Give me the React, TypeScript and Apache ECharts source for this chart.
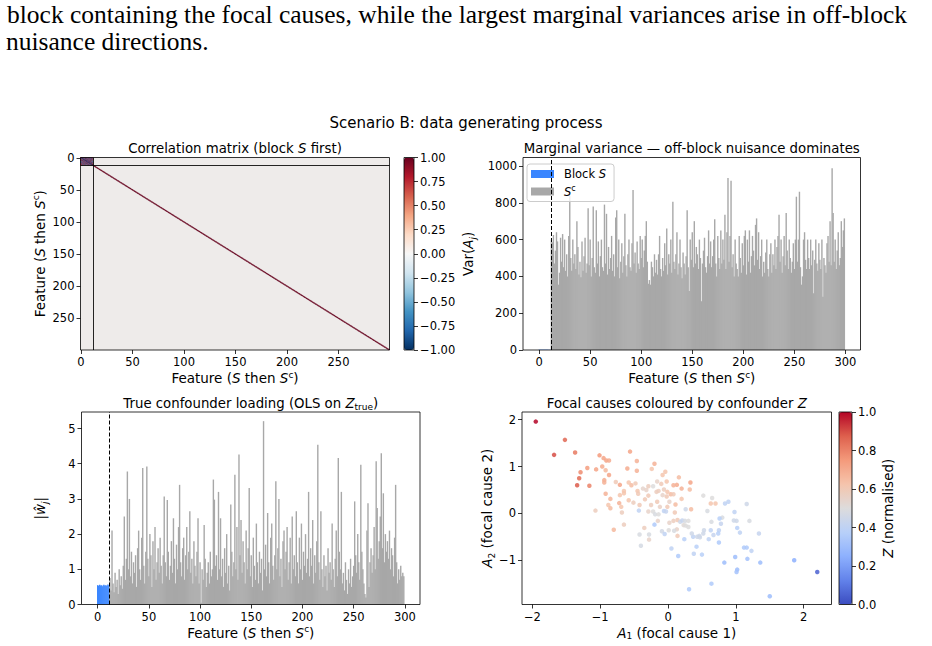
import React, { useEffect, useRef } from 'react';
import * as echarts from 'echarts';

const FONT = 'DejaVu Sans';
const SERIF = 'Liberation Serif';

// ---------------- data ----------------
const N_FEATURES = 300;
const BLOCK_SIZE = 12;

// upper triangle of the 12x12 block-S correlation (row i, columns i+1..11)
const BLOCK_CORR_UPPER: number[][] = [
  [0.82, -0.76, 0.71, -0.88, 0.79, -0.69, 0.74, -0.85, 0.66, -0.8, 0.72],
  [-0.84, 0.73, -0.7, 0.86, -0.77, 0.68, -0.75, 0.83, -0.67, 0.78],
  [-0.72, 0.81, -0.87, 0.7, -0.79, 0.76, -0.69, 0.84, -0.74],
  [-0.78, 0.69, -0.83, 0.8, -0.66, 0.75, -0.82, 0.71],
  [-0.86, 0.74, -0.68, 0.82, -0.77, 0.7, -0.8],
  [-0.79, 0.85, -0.71, 0.76, -0.84, 0.69],
  [-0.73, 0.8, -0.88, 0.72, -0.68],
  [-0.81, 0.75, -0.66, 0.83],
  [-0.7, 0.87, -0.76],
  [-0.8, 0.7],
  [-0.85],
];
const DIAGONAL_CORR = 1;

const VAR_BLOCK_S = [1.0, 0.97, 1.03, 0.99, 1.01, 0.98, 1.02, 1.0, 0.96, 1.04, 0.99, 1.01];
const VAR_NUISANCE = [
  600, 585, 625, 470, 540, 640, 590, 355, 420, 610, 480, 630,
  450, 600, 430, 520, 400, 620, 840, 500, 430, 600, 470, 520,
  440, 700, 560, 410, 480, 395, 590, 430, 510, 610, 420, 470,
  770, 460, 600, 400, 500, 780, 450, 420, 760, 470, 590, 400,
  510, 600, 450, 430, 790, 470, 740, 410, 560, 440, 500, 620,
  430, 520, 400, 720, 760, 450, 600, 390, 480, 580, 420, 510,
  740, 460, 400, 520, 600, 450, 430, 580, 870, 470, 530, 420,
  590, 470, 440, 620, 500, 600, 450, 540, 620, 700, 480, 360,
  380, 355, 480, 450, 400, 520, 420, 490, 410, 520, 620, 440,
  400, 500, 430, 580, 460, 660, 410, 520, 470, 600, 420, 805,
  480, 440, 520, 640, 410, 470, 600, 450, 390, 530, 470, 410,
  510, 760, 450, 320, 600, 490, 640, 450, 700, 470, 560, 520,
  440, 600, 500, 265, 470, 540, 610, 450, 420, 510, 650, 470,
  590, 450, 510, 600, 710, 470, 400, 620, 500, 440, 650, 470,
  600, 490, 735, 440, 640, 935, 480, 620, 920, 450, 520, 400,
  600, 470, 440, 400, 620, 500, 420, 580, 460, 620, 650, 410,
  600, 480, 650, 420, 510, 620, 540, 460, 680, 715, 490, 640,
  440, 510, 600, 400, 480, 420, 530, 600, 440, 400, 520, 580,
  420, 520, 460, 600, 440, 560, 620, 735, 480, 600, 420, 510,
  620, 460, 745, 540, 440, 600, 500, 420, 480, 580, 440, 600,
  833, 480, 600, 860, 450, 355, 400, 600, 640, 490, 440, 600,
  500, 440, 600, 460, 540, 308, 490, 600, 470, 430, 580, 490,
  440, 600, 290, 500, 460, 420, 580, 620, 480, 700, 460, 987,
  745, 480, 600, 440, 540, 640, 460, 500, 700, 560, 650, 715,
];

const LOAD_BLOCK_S = [0.55, 0.53, 0.56, 0.54, 0.55, 0.52, 0.56, 0.54, 0.55, 0.53, 0.57, 0.55];
const LOAD_NUISANCE = [
  0.75, 0.4, 2.1, 0.6, 0.35, 0.9, 0.5, 0.7, 0.3, 1.0, 0.55, 0.8,
  0.45, 1.1, 2.5, 0.7, 1.3, 3.78, 1.0, 3.0, 0.8, 1.5, 0.6, 1.2,
  0.9, 1.4, 0.5, 1.6, 2.1, 1.0, 0.7, 1.9, 3.88, 1.1, 0.6, 1.5,
  3.92, 1.3, 0.8, 2.0, 1.4, 0.5, 1.8, 1.0, 2.2, 0.7, 1.2, 1.6,
  0.9, 1.9, 1.1, 0.6, 1.4, 3.07, 1.2, 0.8, 2.97, 1.5, 0.7, 1.1,
  1.8, 0.9, 2.45, 1.3, 0.6, 1.7, 1.0, 2.2, 3.4, 1.2, 0.8, 1.6,
  1.9, 0.7, 1.4, 2.2, 1.0, 1.5, 2.65, 0.9, 1.3, 0.6, 1.8, 1.1,
  0.8, 1.5, 2.45, 0.6, 1.2, 0.05, 1.0, 0.7, 2.26, 1.3, 0.5, 0.9,
  1.2, 0.6, 1.5, 0.8, 1.0, 3.55, 2.98, 1.1, 1.4, 0.7, 3.2, 1.0,
  2.45, 0.8, 1.3, 0.5, 1.6, 0.9, 2.0, 0.6, 1.1, 0.4, 2.84, 1.5,
  0.8, 1.2, 3.69, 1.0, 2.2, 0.7, 4.26, 1.4, 2.4, 0.9, 1.8, 1.2,
  0.6, 2.1, 1.0, 1.6, 3.31, 0.8, 1.4, 0.5, 1.9, 1.1, 0.7, 2.3,
  1.2, 0.6, 1.5, 0.9, 1.3, 0.4, 5.21, 1.0, 1.7, 0.8, 2.6, 1.2,
  0.6, 1.9, 2.3, 1.1, 0.7, 1.4, 3.5, 1.0, 1.6, 3.0, 0.8, 1.3,
  0.5, 1.8, 2.1, 1.0, 1.5, 2.2, 0.7, 1.2, 1.9, 0.6, 2.5, 1.0,
  1.4, 0.8, 2.65, 1.2, 0.6, 1.9, 1.0, 2.3, 0.7, 1.5, 1.1, 2.0,
  0.9, 1.3, 3.2, 0.8, 1.6, 1.1, 2.4, 0.6, 1.4, 0.9, 1.8, 4.54,
  1.2, 0.7, 2.65, 1.0, 0.5, 1.4, 0.8, 1.1, 0.4, 1.6, 0.9, 1.2,
  0.7, 2.3, 1.0, 0.5, 1.3, 2.1, 0.8, 4.16, 1.5, 1.0, 3.2, 0.6,
  0.9, 0.4, 1.2, 0.7, 0.3, 1.0, 0.6, 1.3, 0.5, 0.8, 1.1, 2.93,
  1.4, 0.9, 2.0, 1.2, 0.7, 3.97, 1.5, 1.0, 0.6, 0.3, 0.2, 2.1,
  2.88, 0.5, 1.2, 1.6, 0.9, 1.4, 2.2, 1.0, 4.07, 2.74, 1.3, 1.8,
  2.5, 4.3, 1.6, 3.16, 1.2, 2.0, 1.5, 1.8, 1.3, 2.1, 1.0, 1.6,
  1.4, 0.8, 1.9, 3.4, 1.2, 0.6, 1.0, 0.7, 1.1, 0.8, 0.9, 0.8,
];

const FOCAL_A1 = [
  -1.95, -1.52, -1.68, -1.37, -1.29, -1.31, -1.34, -1.16, -1.19, -1.06, -1.01, -0.97, -0.95, -0.91, -0.87, -0.92,
  -0.87, -0.94, -0.94, -0.92, -0.85, -0.88, -0.85, -1.07, -0.77, -0.71, -0.65, -0.65, -0.71, -0.72, -0.69, -0.68,
  -0.8, -0.65, -0.56, -0.6, -0.46, -0.46, -0.58, -0.54, -0.48, -0.58, -0.51, -0.45, -0.44, -0.42, -0.37, -0.32,
  -0.34, -0.43, -0.29, -0.22, -0.29, -0.25, -0.29, -0.2, -0.24, -0.16, -0.17, -0.14, -0.16, -0.12, -0.08, -0.04,
  -0.1, -0.06, -0.08, -0.22, -0.19, -0.14, -0.15, -0.2, -0.06, -0.09, -0.05, -0.35, -0.42, -0.28, -0.28, -0.4,
  0.16, 0.13, 0.08, 0.2, 0.33, 0.32, -0.02, -0.01, 0.04, 0.08, -0.02, 0.2, 0.02, 0.11, -0.01, 0.34,
  -0.03, 0.1, 0.26, 0.14, 0.08, 0.02, 0.18, 0.21, 0.25, 0.3, 0.23, 0.26, 0.3, 0.13, 0.09, 0.01,
  0.14, 0.24, 0.05, 0.15, 0.37, 0.43, 0.46, 0.35, 0.42, 0.38, 0.5, 0.52, 0.65, 0.63, 0.7, 0.84,
  0.89, 1.16, 0.58, 0.8, 0.76, 0.78, 0.64, 0.53, 0.63, 0.67, 0.6, 0.52, 0.47, 0.75, 0.74, 0.75,
  0.98, 1.01, 1.02, 1.06, 1.2, 1.12, 1.16, 1.23, 1.34, 0.83, 0.99, 1.17, 1.36, 1.02, 1.01, 0.64,
  0.31, 1.5, 1.86, 2.2, 0.97,
];
const FOCAL_A2 = [
  1.96, 1.57, 1.25, 1.3, 0.88, 0.75, 0.6, 0.59, 0.97, 0.94, 1.24, 1.0, 1.18, 1.13, 1.13, 0.92,
  0.82, 0.71, 0.66, 0.42, 0.31, 0.18, 0.11, 0.06, 0.67, 0.61, 0.48, 0.43, 0.39, 0.22, 0.14, 0.02,
  -0.35, -0.24, 1.32, 0.96, 1.12, 0.91, 0.66, 0.6, 0.64, 0.28, 0.23, 0.48, 0.42, 0.18, 0.53, 0.5,
  0.3, 0.06, 0.58, 0.58, 0.38, 0.18, 0.04, 1.06, 0.95, 0.68, 0.46, 0.48, 0.25, 0.14, 0.82, 0.89,
  0.63, 0.51, 0.39, 0.04, -0.02, -0.02, -0.16, -0.24, 0.05, -0.38, -0.44, -0.31, -0.45, -0.45, -0.56, -0.69,
  0.77, 0.61, 0.6, 0.53, 0.66, 0.51, 0.68, 0.46, 0.41, 0.41, 0.36, 0.31, 0.25, 0.19, 0.14, 0.09,
  0.04, 0.02, 0.09, -0.14, -0.16, -0.2, -0.18, -0.15, -0.16, -0.16, -0.25, -0.26, -0.29, -0.34, -0.37, -0.36,
  -0.48, -0.55, -0.75, -0.91, -0.5, -0.5, -0.48, -0.43, -0.71, -0.86, -0.88, 0.38, 0.33, 0.21, 0.21, 0.21,
  0.25, 0.2, 0.05, -0.09, -0.11, -0.22, -0.18, -0.36, -0.36, -0.46, -0.55, -0.43, -0.51, -0.36, -0.43, -0.62,
  0.03, -0.16, -0.31, -0.41, -0.16, -0.73, -0.73, -0.8, -0.43, -1.05, -0.93, -0.97, -1.05, -1.2, -1.25, -1.5,
  -1.62, -1.77, -1.0, -1.25, -0.15,
];
const CONFOUNDER_Z = [
  1.0, 0.86, 0.9, 0.82, 0.78, 0.85, 0.88, 0.8, 0.74, 0.72, 0.75, 0.7, 0.72, 0.72, 0.7, 0.66,
  0.72, 0.7, 0.68, 0.68, 0.67, 0.62, 0.65, 0.58, 0.6, 0.72, 0.62, 0.62, 0.62, 0.68, 0.62, 0.58,
  0.66, 0.58, 0.72, 0.7, 0.68, 0.68, 0.62, 0.65, 0.6, 0.62, 0.58, 0.62, 0.6, 0.6, 0.54, 0.55,
  0.6, 0.4, 0.58, 0.5, 0.6, 0.58, 0.55, 0.68, 0.62, 0.55, 0.58, 0.58, 0.6, 0.56, 0.62, 0.62,
  0.6, 0.58, 0.55, 0.5, 0.48, 0.5, 0.55, 0.35, 0.4, 0.46, 0.4, 0.58, 0.48, 0.48, 0.55, 0.47,
  0.65, 0.7, 0.68, 0.68, 0.72, 0.65, 0.62, 0.62, 0.65, 0.6, 0.6, 0.62, 0.55, 0.65, 0.6, 0.65,
  0.42, 0.6, 0.45, 0.6, 0.58, 0.55, 0.45, 0.42, 0.48, 0.5, 0.52, 0.5, 0.5, 0.55, 0.48, 0.5,
  0.6, 0.38, 0.4, 0.35, 0.4, 0.45, 0.45, 0.45, 0.38, 0.4, 0.38, 0.5, 0.5, 0.62, 0.62, 0.4,
  0.4, 0.45, 0.48, 0.48, 0.38, 0.42, 0.48, 0.45, 0.4, 0.42, 0.4, 0.45, 0.45, 0.4, 0.38, 0.35,
  0.4, 0.45, 0.38, 0.4, 0.48, 0.35, 0.35, 0.4, 0.42, 0.3, 0.3, 0.32, 0.3, 0.3, 0.32, 0.35,
  0.35, 0.3, 0.25, 0.05, 0.45,
];

// tick labels
const FEATURE_TICKS = [0, 50, 100, 150, 200, 250, 300];
const CORR_TICKS = [-1, -0.75, -0.5, -0.25, 0, 0.25, 0.5, 0.75, 1];
const VAR_TICKS = [0, 200, 400, 600, 800, 1000];
const LOAD_TICKS = [0, 1, 2, 3, 4, 5];
const A1_TICKS = [-2, -1, 0, 1, 2];
const A2_TICKS = [-1, 0, 1, 2];
const Z_TICKS = [0, 0.2, 0.4, 0.6, 0.8, 1.0];
const HEAT_TICK_STEP = 50;

const PARAGRAPH_LINES = [
  'block containing the focal causes, while the largest marginal variances arise in off-block',
  'nuisance directions.',
];

// ---------------- styles ----------------
const RDBU_R = ['#053061', '#2166ac', '#4393c3', '#92c5de', '#d1e5f0', '#f7f7f7', '#fddbc7', '#f4a582', '#d6604d', '#b2182b', '#67001f'];
const COOLWARM = ['#3b4cc0', '#6282ea', '#8db0fe', '#b8d0f9', '#dddcdc', '#f5c4ac', '#f49a7b', '#de604d', '#b40426'];
const BLUE = '#3a86ff';
const GRAY = '#a8a8a8';

const G_HEAT = { left: 80.5, top: 157.5, width: 309, height: 192.5 };
const G_VAR = { left: 523, top: 157.5, width: 337.5, height: 192.5 };
const G_LOAD = { left: 81.5, top: 412, width: 338.5, height: 192.5 };
const G_SCAT = { left: 522, top: 412, width: 309.5, height: 192.5 };
const G_CB1 = { left: 404, top: 157.5, width: 10, height: 192.5 };
const G_CB2 = { left: 839, top: 412, width: 13, height: 192.5 };

const TICK_FS = 11.5;
const LABEL_FS = 13.5;
const TITLE_FS = 13.3;

const rich = (fs: number, lh = 16) => ({
  n: { fontFamily: FONT, fontSize: fs, lineHeight: lh, color: '#000' },
  i: { fontFamily: FONT, fontSize: fs, fontStyle: 'italic', lineHeight: lh, color: '#000' },
  sup: { fontFamily: FONT, fontSize: Math.round(fs * 0.7), lineHeight: 8, verticalAlign: 'top', color: '#000' },
  sub: { fontFamily: FONT, fontSize: Math.round(fs * 0.7), lineHeight: 8, verticalAlign: 'bottom', color: '#000' },
  subi: { fontFamily: FONT, fontSize: Math.round(fs * 0.7), fontStyle: 'italic', lineHeight: 8, verticalAlign: 'bottom', color: '#000' },
});

const minus = (s: string) => s.replace('-', '\u2212');

const tick = (values?: number[]) => ({
  show: true,
  length: 4,
  inside: false,
  lineStyle: { color: '#000', width: 0.8 },
  ...(values ? { customValues: values } : {}),
});
const label = (values: number[] | undefined, fmt: (v: any) => string, margin = 6) => ({
  show: true,
  color: '#000',
  fontFamily: FONT,
  fontSize: TICK_FS,
  margin,
  formatter: fmt,
  ...(values ? { customValues: values } : {}),
});
const noLine = { show: false, onZero: false };

const FEATURE_NAME = '{n|Feature (}{i|S}{n| then }{i|S}{sup|c}{n|)}';

function buildOption() {
  // correlation cells: block S and the unit diagonal
  const heatData: number[][] = [];
  for (let i = 0; i < BLOCK_SIZE; i++) {
    for (let j = 0; j < BLOCK_SIZE; j++) {
      let v = DIAGONAL_CORR;
      if (i < j) v = BLOCK_CORR_UPPER[i][j - i - 1];
      else if (j < i) v = BLOCK_CORR_UPPER[j][i - j - 1];
      heatData.push([j, i, v]);
    }
  }
  for (let i = BLOCK_SIZE; i < N_FEATURES; i++) heatData.push([i, i, DIAGONAL_CORR]);

  const cats = Array.from({ length: N_FEATURES }, (_, i) => String(i));
  const boundary = BLOCK_SIZE - 0.5;
  const xPad = 15.4;

  const varBlock = VAR_BLOCK_S.map((v, i) => [i, v]);
  const varNuis = VAR_NUISANCE.map((v, i) => [i + BLOCK_SIZE, v]);
  const loadBlock = LOAD_BLOCK_S.map((v, i) => [i, v]);
  const loadNuis = LOAD_NUISANCE.map((v, i) => [i + BLOCK_SIZE, v]);
  const scat = FOCAL_A1.map((a, i) => [a, FOCAL_A2[i], CONFOUNDER_Z[i]]);

  const dashed = {
    silent: true,
    symbol: ['none', 'none'],
    label: { show: false },
    lineStyle: { color: '#000', width: 1, type: [4, 2] },
    data: [{ xAxis: boundary }],
  };

  const xName = (name: string, gap: number) => ({
    name,
    nameLocation: 'middle',
    nameGap: gap,
    nameMoveOverlap: false,
    nameTextStyle: { rich: rich(LABEL_FS) },
  });
  const yName = (name: string, gap: number) => ({
    name,
    nameLocation: 'middle',
    nameGap: gap,
    nameMoveOverlap: false,
    nameTextStyle: { rich: rich(LABEL_FS, 18) },
  });

  const featureAxisBar = (gridIndex: number) => ({
    type: 'value',
    gridIndex,
    min: -0.4 - xPad,
    max: N_FEATURES - 0.6 + xPad,
    axisLine: noLine,
    axisTick: tick(FEATURE_TICKS),
    axisLabel: label(FEATURE_TICKS, (v: number) => String(v)),
    splitLine: { show: false },
    ...xName(FEATURE_NAME, 20),
  });

  const frames = [G_HEAT, G_VAR, G_LOAD, G_SCAT, G_CB1, G_CB2].map((g) => ({
    type: 'rect',
    silent: true,
    z: 100,
    shape: { x: g.left, y: g.top, width: g.width, height: g.height },
    style: { fill: 'none', stroke: '#000', lineWidth: 0.8 },
  }));

  const titleText = (text: string, g: any, y: number) => ({
    type: 'text',
    silent: true,
    x: g.left + g.width / 2,
    y,
    style: { text, align: 'center', verticalAlign: 'middle', rich: rich(TITLE_FS), fontFamily: FONT, fontSize: TITLE_FS, fill: '#000' },
  });

  const catTickInterval = (i: number) => i % HEAT_TICK_STEP === 0;

  return {
    animation: false,
    backgroundColor: '#ffffff',
    textStyle: { fontFamily: FONT },
    grid: [
      { ...G_HEAT, show: true, backgroundColor: '#eeebea', borderWidth: 0 },
      { ...G_VAR, show: false },
      { ...G_LOAD, show: false },
      { ...G_SCAT, show: false },
      { ...G_CB1, show: false },
      { ...G_CB2, show: false },
      { ...G_HEAT, show: false },
    ],
    xAxis: [
      {
        type: 'category',
        gridIndex: 0,
        data: cats,
        axisLine: noLine,
        axisTick: { ...tick(), alignWithLabel: true, interval: catTickInterval },
        axisLabel: { ...label(undefined, (v: string) => v), interval: catTickInterval },
        splitLine: { show: false },
        ...xName(FEATURE_NAME, 20),
      },
      featureAxisBar(1),
      featureAxisBar(2),
      {
        type: 'value',
        gridIndex: 3,
        min: -2.153,
        max: 2.41,
        axisLine: noLine,
        axisTick: tick(A1_TICKS),
        axisLabel: label(A1_TICKS, (v: number) => minus(String(v))),
        splitLine: { show: false },
        ...xName('{i|A}{sub|1}{n| (focal cause 1)}', 20),
      },
      { type: 'value', gridIndex: 4, show: false, min: 0, max: 1 },
      { type: 'value', gridIndex: 5, show: false, min: 0, max: 1 },
      { type: 'value', gridIndex: 6, show: false, min: -0.5, max: N_FEATURES - 0.5 },
    ],
    yAxis: [
      {
        type: 'category',
        gridIndex: 0,
        data: cats,
        inverse: true,
        axisLine: noLine,
        axisTick: { ...tick(), alignWithLabel: true, interval: catTickInterval },
        axisLabel: { ...label(undefined, (v: string) => v), interval: catTickInterval },
        splitLine: { show: false },
        ...yName(FEATURE_NAME, 31.5),
      },
      {
        type: 'value',
        gridIndex: 1,
        min: 0,
        max: 1046,
        axisLine: noLine,
        axisTick: tick(VAR_TICKS),
        axisLabel: label(VAR_TICKS, (v: number) => String(v)),
        splitLine: { show: false },
        ...yName('{n|Var(}{i|A}{subi|j}{n|)}', 46),
      },
      {
        type: 'value',
        gridIndex: 2,
        min: 0,
        max: 5.47,
        axisLine: noLine,
        axisTick: tick(LOAD_TICKS),
        axisLabel: label(LOAD_TICKS, (v: number) => String(v)),
        splitLine: { show: false },
        ...yName('{n||}{i|\u0175}{subi|j}{n||}', 32.5),
      },
      {
        type: 'value',
        gridIndex: 3,
        min: -1.945,
        max: 2.165,
        axisLine: noLine,
        axisTick: tick(A2_TICKS),
        axisLabel: label(A2_TICKS, (v: number) => minus(String(v))),
        splitLine: { show: false },
        ...yName('{i|A}{sub|2}{n| (focal cause 2)}', 26),
      },
      {
        type: 'value',
        gridIndex: 4,
        position: 'right',
        min: -1,
        max: 1,
        axisLine: noLine,
        axisTick: tick(CORR_TICKS),
        axisLabel: label(CORR_TICKS, (v: number) => minus(v.toFixed(2))),
        splitLine: { show: false },
      },
      {
        type: 'value',
        gridIndex: 5,
        position: 'right',
        min: 0,
        max: 1,
        axisLine: noLine,
        axisTick: tick(Z_TICKS),
        axisLabel: label(Z_TICKS, (v: number) => v.toFixed(1)),
        splitLine: { show: false },
        ...yName('{i|Z}{n| (normalised)}', 27),
      },
      { type: 'value', gridIndex: 6, show: false, inverse: true, min: -0.5, max: N_FEATURES - 0.5 },
    ],
    visualMap: [
      {
        type: 'continuous',
        seriesIndex: 0,
        dimension: 2,
        min: -1,
        max: 1,
        inRange: { color: RDBU_R },
        show: true,
        calculable: false,
        hoverLink: false,
        orient: 'vertical',
        left: G_CB1.left,
        top: G_CB1.top,
        itemWidth: G_CB1.width,
        itemHeight: G_CB1.height,
        padding: 0,
      },
      {
        type: 'continuous',
        seriesIndex: 5,
        dimension: 2,
        min: 0,
        max: 1,
        inRange: { color: COOLWARM },
        show: true,
        calculable: false,
        hoverLink: false,
        orient: 'vertical',
        left: G_CB2.left,
        top: G_CB2.top,
        itemWidth: G_CB2.width,
        itemHeight: G_CB2.height,
        padding: 0,
      },
    ],
    legend: {
      show: true,
      orient: 'vertical',
      left: 527,
      top: 164,
      data: ['Block S', 'S^c'],
      icon: 'rect',
      itemWidth: 23,
      itemHeight: 8,
      itemGap: 4,
      padding: [4, 8, 4, 4],
      borderColor: '#cccccc',
      borderWidth: 1,
      borderRadius: 3,
      backgroundColor: 'rgba(255,255,255,0.8)',
      selectedMode: false,
      formatter: (name: string) => (name === 'Block S' ? '{g|}{n|Block }{i|S}' : '{g|}{i|S}{sup|c}'),
      textStyle: {
        fontFamily: FONT,
        fontSize: 11.5,
        color: '#000',
        rich: {
          g: { width: 5 },
          n: { fontFamily: FONT, fontSize: 11.5, lineHeight: 15, color: '#000' },
          i: { fontFamily: FONT, fontSize: 11.5, fontStyle: 'italic', lineHeight: 15, color: '#000' },
          sup: { fontFamily: FONT, fontSize: 8, lineHeight: 8, verticalAlign: 'top', color: '#000' },
        },
      },
    },
    series: [
      {
        type: 'custom',
        xAxisIndex: 0,
        yAxisIndex: 0,
        data: heatData,
        encode: { x: 0, y: 1 },
        progressive: 0,
        silent: true,
        renderItem: (_params: any, api: any) => {
          const p = api.coord([api.value(0), api.value(1)]);
          const s = api.size([1, 1]);
          const c = api.visual('color');
          return {
            type: 'rect',
            shape: { x: p[0] - s[0] / 2, y: p[1] - s[1] / 2, width: s[0], height: s[1] },
            style: { fill: c, stroke: c, lineWidth: 0.45 },
          };
        },
      },
      {
        name: 'Block S',
        type: 'bar',
        xAxisIndex: 1,
        yAxisIndex: 1,
        data: varBlock,
        barWidth: 1.4,
        barGap: '-100%',
        itemStyle: { color: BLUE },
      },
      {
        name: 'S^c',
        type: 'bar',
        xAxisIndex: 1,
        yAxisIndex: 1,
        data: varNuis,
        barWidth: 1.4,
        barGap: '-100%',
        itemStyle: { color: GRAY },
        markLine: dashed,
      },
      {
        name: 'Block S loading',
        type: 'bar',
        xAxisIndex: 2,
        yAxisIndex: 2,
        data: loadBlock,
        barWidth: 1.4,
        barGap: '-100%',
        itemStyle: { color: BLUE },
      },
      {
        name: 'S^c loading',
        type: 'bar',
        xAxisIndex: 2,
        yAxisIndex: 2,
        data: loadNuis,
        barWidth: 1.4,
        barGap: '-100%',
        itemStyle: { color: GRAY },
        markLine: dashed,
      },
      {
        type: 'scatter',
        xAxisIndex: 3,
        yAxisIndex: 3,
        data: scat,
        symbolSize: 4.5,
        itemStyle: { opacity: 0.85 },
      },
      {
        type: 'scatter',
        xAxisIndex: 6,
        yAxisIndex: 6,
        data: [],
        markLine: {
          silent: true,
          symbol: ['none', 'none'],
          label: { show: false },
          lineStyle: { color: '#000', width: 1, type: 'solid', opacity: 0.85 },
          data: [{ xAxis: boundary }, { yAxis: boundary }],
        },
      },
    ],
    graphic: [
      ...frames,
      {
        type: 'text',
        silent: true,
        x: 7,
        y: 14.5,
        style: { text: PARAGRAPH_LINES[0], fontFamily: SERIF, fontSize: 25.5, lineHeight: 20, fill: '#000', align: 'left', verticalAlign: 'middle' },
      },
      {
        type: 'text',
        silent: true,
        x: 6,
        y: 41,
        style: { text: PARAGRAPH_LINES[1], fontFamily: SERIF, fontSize: 25.5, lineHeight: 20, fill: '#000', align: 'left', verticalAlign: 'middle' },
      },
      {
        type: 'text',
        silent: true,
        x: 466,
        y: 123,
        style: { text: 'Scenario B: data generating process', fontFamily: FONT, fontSize: 15, fill: '#000', align: 'center', verticalAlign: 'middle' },
      },
      titleText('{n|Correlation matrix (block }{i|S}{n| first)}', G_HEAT, 148),
      titleText('{n|Marginal variance \u2014 off-block nuisance dominates}', G_VAR, 148),
      titleText('{n|True confounder loading (OLS on }{i|Z}{sub|true}{n|)}', G_LOAD, 403),
      titleText('{n|Focal causes coloured by confounder }{i|Z}', G_SCAT, 403),
    ],
  };
}

export default function App() {
  const ref = useRef<HTMLDivElement>(null);
  useEffect(() => {
    if (!ref.current) return;
    const chart = echarts.init(ref.current, null, { renderer: 'svg' });
    chart.setOption(buildOption() as any);
    return () => chart.dispose();
  }, []);
  return (
    <div
      ref={ref}
      style={{ position: 'fixed', left: 0, top: 0, width: 932, height: 646, background: '#ffffff' }}
    />
  );
}
